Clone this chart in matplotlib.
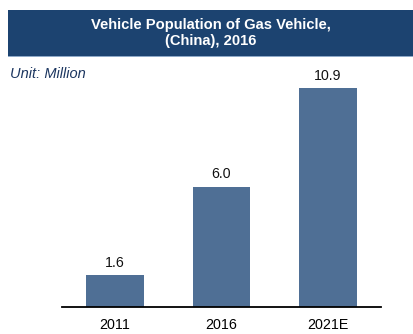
import matplotlib
matplotlib.use("Agg")
import matplotlib.pyplot as plt
from matplotlib.patches import Rectangle

categories = ["2011", "2016", "2021E"]
values = [1.6, 6.0, 10.9]
value_labels = ["1.6", "6.0", "10.9"]
title = "Vehicle Population of Gas Vehicle,\n(China), 2016"
unit = "Unit: Million"

plt.rcParams['font.family'] = ['Liberation Sans', 'DejaVu Sans']

W, H = 414, 334
fig = plt.figure(figsize=(W/100, H/100), dpi=100)
fig.patch.set_facecolor("white")

# title banner
fig.patches.append(Rectangle((8/W, 1-56/H), (W-8)/W, 46/H, transform=fig.transFigure,
                             facecolor="#1C4370", edgecolor="none"))
fig.patches.append(Rectangle((8/W, 1-57/H), (W-8)/W, 1/H, transform=fig.transFigure,
                             facecolor="#8EA9C8", edgecolor="none"))
fig.text((8+W)/2/W, 1-33/H, title, color="white", fontsize=10.6, fontweight="bold",
         ha="center", va="center", linespacing=1.25)
fig.text(10/W, 1-74/H, unit, fontsize=10.5, style="italic", color="#1C3660",
         ha="left", va="center")

ax = fig.add_axes([62/W, 27/H, 319/W, (307-66)/H])
x = range(len(categories))
bars = ax.bar(x, values, width=0.54, color="#4F6F95")
ax.set_xlim(-0.5, 2.5)
ax.set_ylim(0, 12)
for xi, v, lab in zip(x, values, value_labels):
    ax.text(xi, v + 0.25, lab, ha="center", va="bottom", fontsize=10.2, color="#111111")
ax.set_xticks(list(x))
ax.set_xticklabels(categories, fontsize=10.3)
ax.tick_params(axis="x", length=0, pad=8)
ax.set_yticks([])
for s in ["top", "right", "left"]:
    ax.spines[s].set_visible(False)
ax.spines["bottom"].set_linewidth(1.3)
ax.spines["bottom"].set_color("black")

fig.savefig("out.png", dpi=100)
